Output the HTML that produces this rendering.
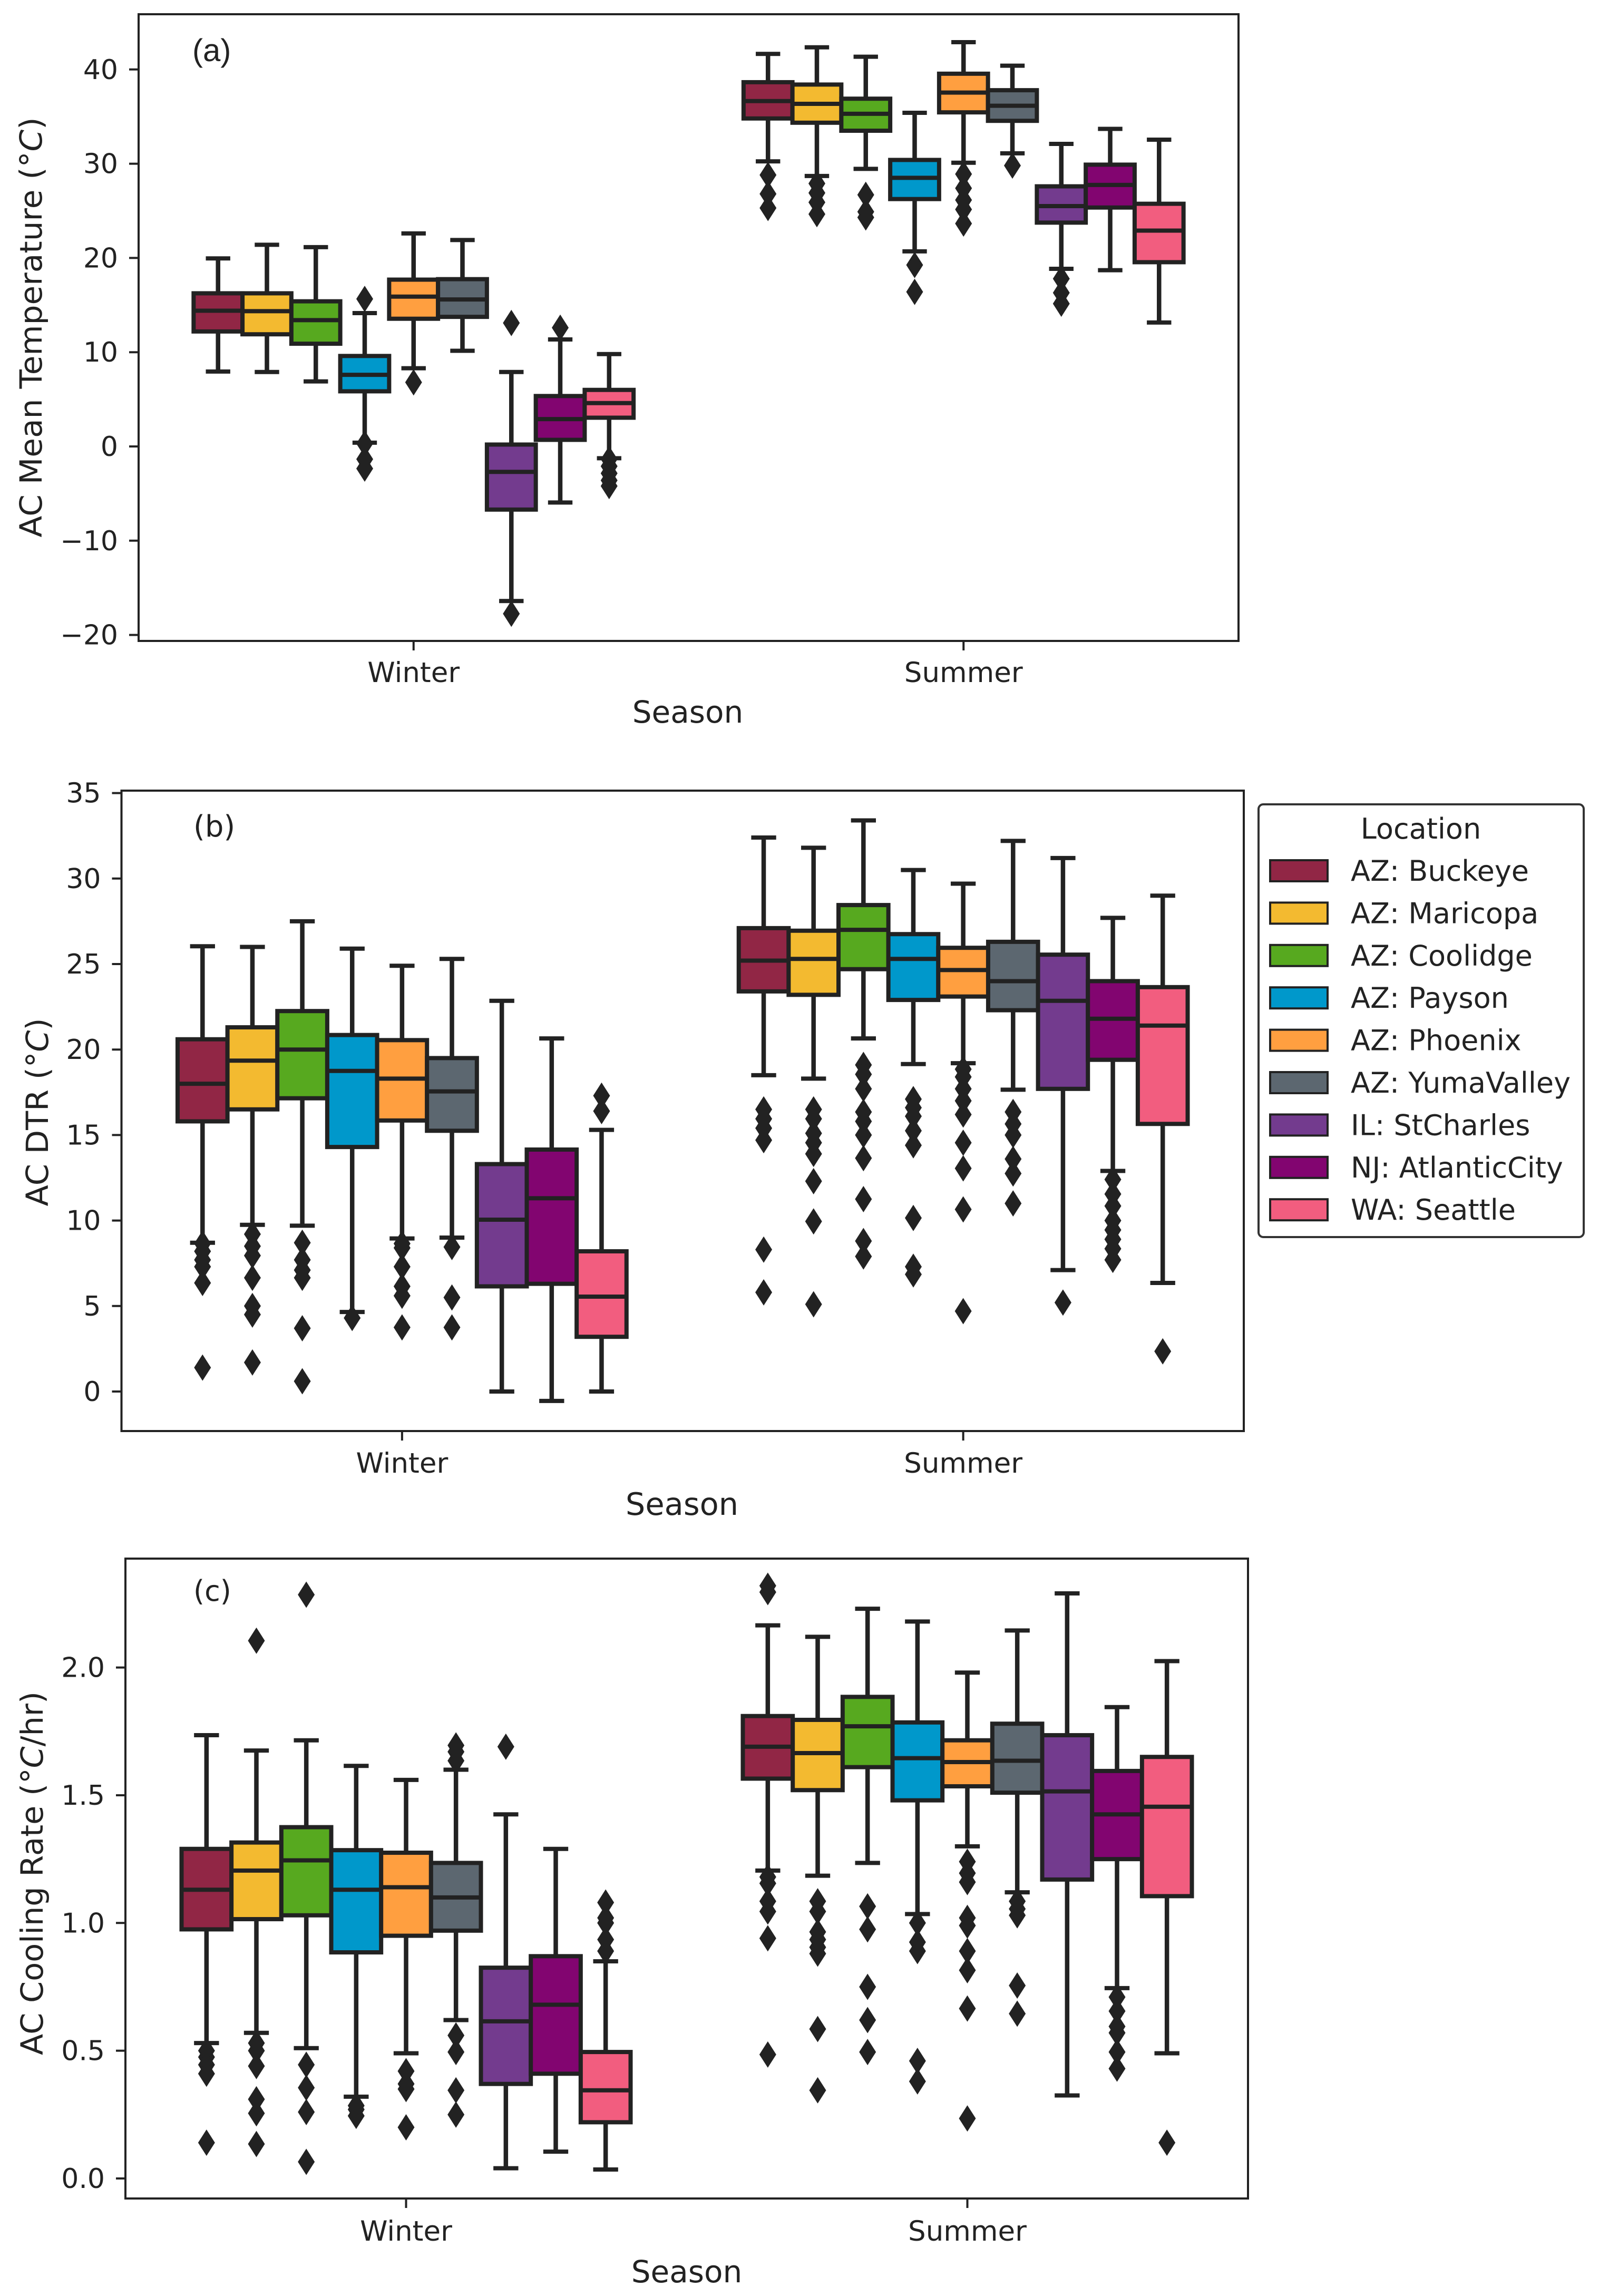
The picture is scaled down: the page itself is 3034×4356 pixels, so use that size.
<!DOCTYPE html>
<html lang="en">
<head>
<meta charset="utf-8">
<title>AC boxplots by season and location</title>
<style>
html,body{margin:0;padding:0;background:#fff;}
svg{display:block;}
text{font-family:"DejaVu Sans","Liberation Sans",sans-serif;fill:#222;}
</style>
</head>
<body>
<svg id="fig" xmlns="http://www.w3.org/2000/svg" width="3034" height="4356" viewBox="0 0 3034 4356">
  <rect width="3034" height="4356" fill="#fff"/>

  <g id="panel-a"></g>
  <g id="panel-b"></g>
  <g id="panel-c"></g>

  <text x="365" y="116" font-size="60" style="font-family:'Liberation Sans',sans-serif">(a)</text>
  <text x="367" y="1587" font-size="56">(b)</text>
  <text x="367" y="3037" font-size="54">(c)</text>

  <text transform="translate(79,621) rotate(-90)" text-anchor="middle" font-size="58" textLength="797" lengthAdjust="spacingAndGlyphs">AC Mean Temperature (°<tspan font-style="italic">C</tspan>)</text>
  <text transform="translate(91,2110) rotate(-90)" text-anchor="middle" font-size="58" textLength="357" lengthAdjust="spacingAndGlyphs">AC DTR (°<tspan font-style="italic">C</tspan>)</text>
  <text transform="translate(81,3554) rotate(-90)" text-anchor="middle" font-size="58" textLength="690" lengthAdjust="spacingAndGlyphs">AC Cooling Rate (°<tspan font-style="italic">C</tspan>/hr)</text>

  <text x="1305" y="1371" text-anchor="middle" font-size="58">Season</text>
  <text x="1294" y="2874" text-anchor="middle" font-size="59">Season</text>
  <text x="1303" y="4330" text-anchor="middle" font-size="58">Season</text>

  <g id="legend">
    <rect x="2388" y="1526" width="617" height="821" rx="9" fill="#fff" stroke="#333" stroke-width="4"/>
    <text x="2696" y="1591" text-anchor="middle" font-size="54">Location</text>
  </g>
</svg>

<script>
// ---------- categories ----------
const seasons = ['Winter', 'Summer'];
const locations = ['AZ: Buckeye', 'AZ: Maricopa', 'AZ: Coolidge', 'AZ: Payson', 'AZ: Phoenix', 'AZ: YumaValley', 'IL: StCharles', 'NJ: AtlanticCity', 'WA: Seattle'];
const locationColors = ['#912645', '#f3ba30', '#57a91f', '#0098cb', '#ff9f40', '#5c6770', '#733b8e', '#820570', '#f25d7f'];

// ---------- tick labels ----------
const ticksA = [-20, -10, 0, 10, 20, 30, 40];
const tickLabelsA = ['\u221220', '\u221210', '0', '10', '20', '30', '40'];
const ticksB = [0, 5, 10, 15, 20, 25, 30, 35];
const tickLabelsB = ['0', '5', '10', '15', '20', '25', '30', '35'];
const ticksC = [0, 0.5, 1, 1.5, 2];
const tickLabelsC = ['0.0', '0.5', '1.0', '1.5', '2.0'];

// ---------- panel (a): AC mean temperature ----------
const aWinterHi  = [19.95, 21.4, 21.15, 14.15, 22.6, 21.9, 7.9, 11.35, 9.8];
const aWinterQ3  = [16.25, 16.25, 15.4, 9.6, 17.7, 17.75, 0.2, 5.35, 6.0];
const aWinterMed = [14.4, 14.35, 13.4, 7.6, 15.9, 15.6, -2.7, 2.9, 4.6];
const aWinterQ1  = [12.2, 11.9, 10.9, 5.85, 13.55, 13.75, -6.7, 0.7, 3.05];
const aWinterLo  = [7.95, 7.9, 6.9, 0.4, 8.3, 10.15, -16.4, -5.95, -1.25];
const aWinterOut = [[], [], [], [15.65, 0.3, -1.35, -2.35], [6.8], [], [13.1, -17.75], [12.6], [-1.35, -2.1, -2.85, -3.6, -4.2]];

const aSummerHi  = [41.65, 42.35, 41.35, 35.4, 42.9, 40.4, 32.1, 33.7, 32.55];
const aSummerQ3  = [38.65, 38.4, 36.9, 30.4, 39.55, 37.8, 27.6, 29.9, 25.75];
const aSummerMed = [36.65, 36.35, 35.3, 28.5, 37.55, 36.15, 25.5, 27.75, 22.9];
const aSummerQ1  = [34.8, 34.35, 33.5, 26.25, 35.45, 34.55, 23.75, 25.35, 19.55];
const aSummerLo  = [30.25, 28.7, 29.45, 20.7, 30.1, 31.1, 18.85, 18.7, 13.15];
const aSummerOut = [[28.8, 26.8, 25.3], [27.9, 26.9, 25.9, 24.65], [26.7, 24.9, 24.3], [19.25, 16.4], [28.9, 27.4, 26.15, 25.15, 23.65], [29.8], [17.8, 16.3, 15.15], [], []];

// ---------- panel (b): AC DTR ----------
const bWinterHi  = [26.04, 26.0, 27.5, 25.9, 24.9, 25.3, 22.85, 20.65, 15.3];
const bWinterQ3  = [20.6, 21.3, 22.25, 20.85, 20.55, 19.5, 13.3, 14.15, 8.2];
const bWinterMed = [18.0, 19.35, 20.0, 18.75, 18.3, 17.55, 10.05, 11.3, 5.55];
const bWinterQ1  = [15.8, 16.5, 17.15, 14.3, 15.85, 15.25, 6.15, 6.3, 3.2];
const bWinterLo  = [8.7, 9.75, 9.7, 4.65, 8.95, 9.0, 0, -0.55, 0];
const bWinterOut = [[8.65, 8.2, 7.7, 7.3, 6.35, 1.4], [9.2, 8.5, 7.95, 6.65, 5.0, 4.5, 1.7], [8.7, 7.7, 7.1, 6.65, 3.7, 0.6], [4.3], [8.65, 8.4, 7.3, 6.15, 5.6, 3.75], [8.45, 5.5, 3.75], [], [], [17.3, 16.4]];

const bSummerHi  = [32.4, 31.8, 33.4, 30.5, 29.7, 32.2, 31.2, 27.7, 29.0];
const bSummerQ3  = [27.1, 26.95, 28.45, 26.75, 25.95, 26.3, 25.55, 24.0, 23.65];
const bSummerMed = [25.2, 25.3, 27.0, 25.3, 24.65, 24.0, 22.85, 21.8, 21.4];
const bSummerQ1  = [23.4, 23.2, 24.7, 22.9, 23.1, 22.3, 17.7, 19.4, 15.65];
const bSummerLo  = [18.5, 18.3, 20.65, 19.15, 19.2, 17.65, 7.1, 12.9, 6.35];
const bSummerOut = [[16.5, 15.95, 15.4, 14.7, 8.3, 5.8], [16.5, 15.95, 15.1, 14.55, 13.9, 12.3, 9.95, 5.1], [19.1, 18.55, 17.7, 16.35, 15.8, 15.0, 13.65, 11.25, 8.8, 7.9], [17.1, 16.6, 16.1, 15.25, 14.4, 10.15, 7.3, 6.85], [18.85, 18.4, 17.7, 17.0, 16.2, 14.55, 13.05, 10.65, 4.7], [16.35, 15.65, 15.0, 13.6, 12.75, 11.0], [5.2], [12.4, 11.55, 10.85, 10.0, 9.45, 8.9, 8.35, 7.7], [2.35]];

// ---------- panel (c): AC cooling rate ----------
const cWinterHi  = [1.735, 1.675, 1.715, 1.615, 1.56, 1.6, 1.425, 1.29, 0.85];
const cWinterQ3  = [1.29, 1.315, 1.375, 1.285, 1.275, 1.235, 0.825, 0.87, 0.495];
const cWinterMed = [1.13, 1.205, 1.245, 1.13, 1.14, 1.1, 0.615, 0.68, 0.345];
const cWinterQ1  = [0.975, 1.015, 1.03, 0.885, 0.95, 0.97, 0.37, 0.41, 0.22];
const cWinterLo  = [0.53, 0.57, 0.51, 0.32, 0.49, 0.62, 0.04, 0.105, 0.035];
const cWinterOut = [[0.5, 0.475, 0.445, 0.41, 0.14], [2.105, 0.53, 0.5, 0.44, 0.31, 0.255, 0.135], [2.285, 0.445, 0.355, 0.26, 0.065], [0.285, 0.27, 0.245], [0.42, 0.37, 0.35, 0.2], [1.695, 1.67, 1.635, 0.56, 0.495, 0.345, 0.25], [1.69], [], [1.08, 1.02, 1.0, 0.935, 0.89]];

const cSummerHi  = [2.165, 2.12, 2.23, 2.18, 1.98, 2.145, 2.29, 1.845, 2.025];
const cSummerQ3  = [1.81, 1.795, 1.885, 1.785, 1.715, 1.78, 1.735, 1.595, 1.65];
const cSummerMed = [1.69, 1.665, 1.77, 1.645, 1.63, 1.635, 1.515, 1.425, 1.455];
const cSummerQ1  = [1.565, 1.52, 1.61, 1.48, 1.535, 1.51, 1.17, 1.25, 1.105];
const cSummerLo  = [1.205, 1.185, 1.235, 1.035, 1.3, 1.12, 0.325, 0.745, 0.49];
const cSummerOut = [[2.32, 2.295, 1.18, 1.155, 1.085, 1.045, 0.94, 0.485], [1.085, 1.045, 0.965, 0.935, 0.905, 0.88, 0.585, 0.345], [1.065, 0.975, 0.75, 0.62, 0.495], [1.0, 0.925, 0.89, 0.46, 0.38], [1.24, 1.195, 1.16, 1.02, 0.99, 0.89, 0.815, 0.665, 0.235], [1.085, 1.055, 1.03, 0.755, 0.645], [], [0.71, 0.655, 0.595, 0.57, 0.495, 0.43], [0.14]];

// ---------- drawing ----------
const SVGNS = 'http://www.w3.org/2000/svg';
const INK = '#222';

function mk(tag, attrs, parent) {
  const el = document.createElementNS(SVGNS, tag);
  for (const k in attrs) el.setAttribute(k, attrs[k]);
  parent.appendChild(el);
  return el;
}
function slug(s) {
  return s.toLowerCase().replace(/[^a-z0-9]+/g, '-');
}

function drawPanel(cfg) {
  const root = document.getElementById(cfg.id);
  const yScale = v => cfg.y0 + (v - cfg.v0) * cfg.pxPerUnit;
  const xScale = u => cfg.left + (u + 0.5) * (cfg.right - cfg.left) / 2;
  const step = (xScale(1) - xScale(0)) * 0.8 / locations.length;

  // y ticks
  cfg.ticks.forEach((t, i) => {
    const y = yScale(t);
    const tick = mk('line', {x1: cfg.left - 18, x2: cfg.left, y1: y, y2: y, stroke: INK, 'stroke-width': 4}, root);
    
    
    const lab = mk('text', {x: cfg.left - 39, y: y + 18, 'text-anchor': 'end', 'font-size': 52}, root);
    lab.textContent = cfg.tickLabels[i];
    
    
  });

  // seasons
  seasons.forEach((season, s) => {
    const cx = xScale(s);
    const tick = mk('line', {x1: cx, x2: cx, y1: cfg.bottom, y2: cfg.bottom + 18, stroke: INK, 'stroke-width': 4}, root);
    
    
    const lab = mk('text', {x: cx, y: cfg.xLabelY, 'text-anchor': 'middle', 'font-size': 53}, root);
    lab.textContent = season;
    
    

    const d = cfg.data[s];
    locations.forEach((loc, i) => {
      const x = cx + (i - (locations.length - 1) / 2) * step;
      const g = mk('g', {}, root);
      
      

      const whisker = mk('line', {x1: x, x2: x, y1: yScale(d.lo[i]), y2: yScale(d.hi[i]), stroke: INK, 'stroke-width': 8.5}, g);
      
      

      [d.lo[i], d.hi[i]].forEach(v => {
        const cap = mk('line', {x1: x - step / 4, x2: x + step / 4, y1: yScale(v), y2: yScale(v), stroke: INK, 'stroke-width': 8}, g);
        
        
      });

      const top = yScale(d.q3[i]);
      const bot = yScale(d.q1[i]);
      const box = mk('rect', {x: x - step / 2, y: top, width: step, height: bot - top, fill: locationColors[i], stroke: INK, 'stroke-width': 8}, g);
      
      

      const med = mk('line', {x1: x - step / 2, x2: x + step / 2, y1: yScale(d.med[i]), y2: yScale(d.med[i]), stroke: INK, 'stroke-width': 8}, g);
      
      

      d.out[i].forEach(v => {
        const y = yScale(v);
        const pts = [x, y - 25, x + 16, y, x, y + 25, x - 16, y].join(' ');
        const o = mk('polygon', {points: pts, fill: INK}, g);
        
        
      });
    });
  });

  // frame last
  const frame = mk('rect', {x: cfg.left, y: cfg.top, width: cfg.right - cfg.left, height: cfg.bottom - cfg.top, fill: 'none', stroke: INK, 'stroke-width': 4}, root);
  
  
}

drawPanel({
  id: 'panel-a', left: 263, right: 2350, top: 27, bottom: 1216,
  v0: 0, y0: 847, pxPerUnit: -17.88, xLabelY: 1294,
  ticks: ticksA, tickLabels: tickLabelsA,
  data: [
    {hi: aWinterHi, q3: aWinterQ3, med: aWinterMed, q1: aWinterQ1, lo: aWinterLo, out: aWinterOut},
    {hi: aSummerHi, q3: aSummerQ3, med: aSummerMed, q1: aSummerQ1, lo: aSummerLo, out: aSummerOut}
  ]
});
drawPanel({
  id: 'panel-b', left: 230.5, right: 2360, top: 1500, bottom: 2715,
  v0: 0, y0: 2640, pxPerUnit: -32.44, xLabelY: 2794,
  ticks: ticksB, tickLabels: tickLabelsB,
  data: [
    {hi: bWinterHi, q3: bWinterQ3, med: bWinterMed, q1: bWinterQ1, lo: bWinterLo, out: bWinterOut},
    {hi: bSummerHi, q3: bSummerQ3, med: bSummerMed, q1: bSummerQ1, lo: bSummerLo, out: bSummerOut}
  ]
});
drawPanel({
  id: 'panel-c', left: 238, right: 2368, top: 2957, bottom: 4171,
  v0: 0, y0: 4133, pxPerUnit: -484.7, xLabelY: 4251,
  ticks: ticksC, tickLabels: tickLabelsC,
  data: [
    {hi: cWinterHi, q3: cWinterQ3, med: cWinterMed, q1: cWinterQ1, lo: cWinterLo, out: cWinterOut},
    {hi: cSummerHi, q3: cSummerQ3, med: cSummerMed, q1: cSummerQ1, lo: cSummerLo, out: cSummerOut}
  ]
});

// legend entries
const legendRoot = document.getElementById('legend');
locations.forEach((loc, i) => {
  const cy = 1652 + i * 80.4;
  const entry = mk('g', {}, legendRoot);
  
  
  const swatch = mk('rect', {x: 2410, y: cy - 20, width: 109, height: 40, fill: locationColors[i], stroke: INK, 'stroke-width': 4}, entry);
  
  
  const label = mk('text', {x: 2563, y: cy + 19, 'font-size': 54}, entry);
  label.textContent = loc;
  
  
});
</script>
</body>
</html>
